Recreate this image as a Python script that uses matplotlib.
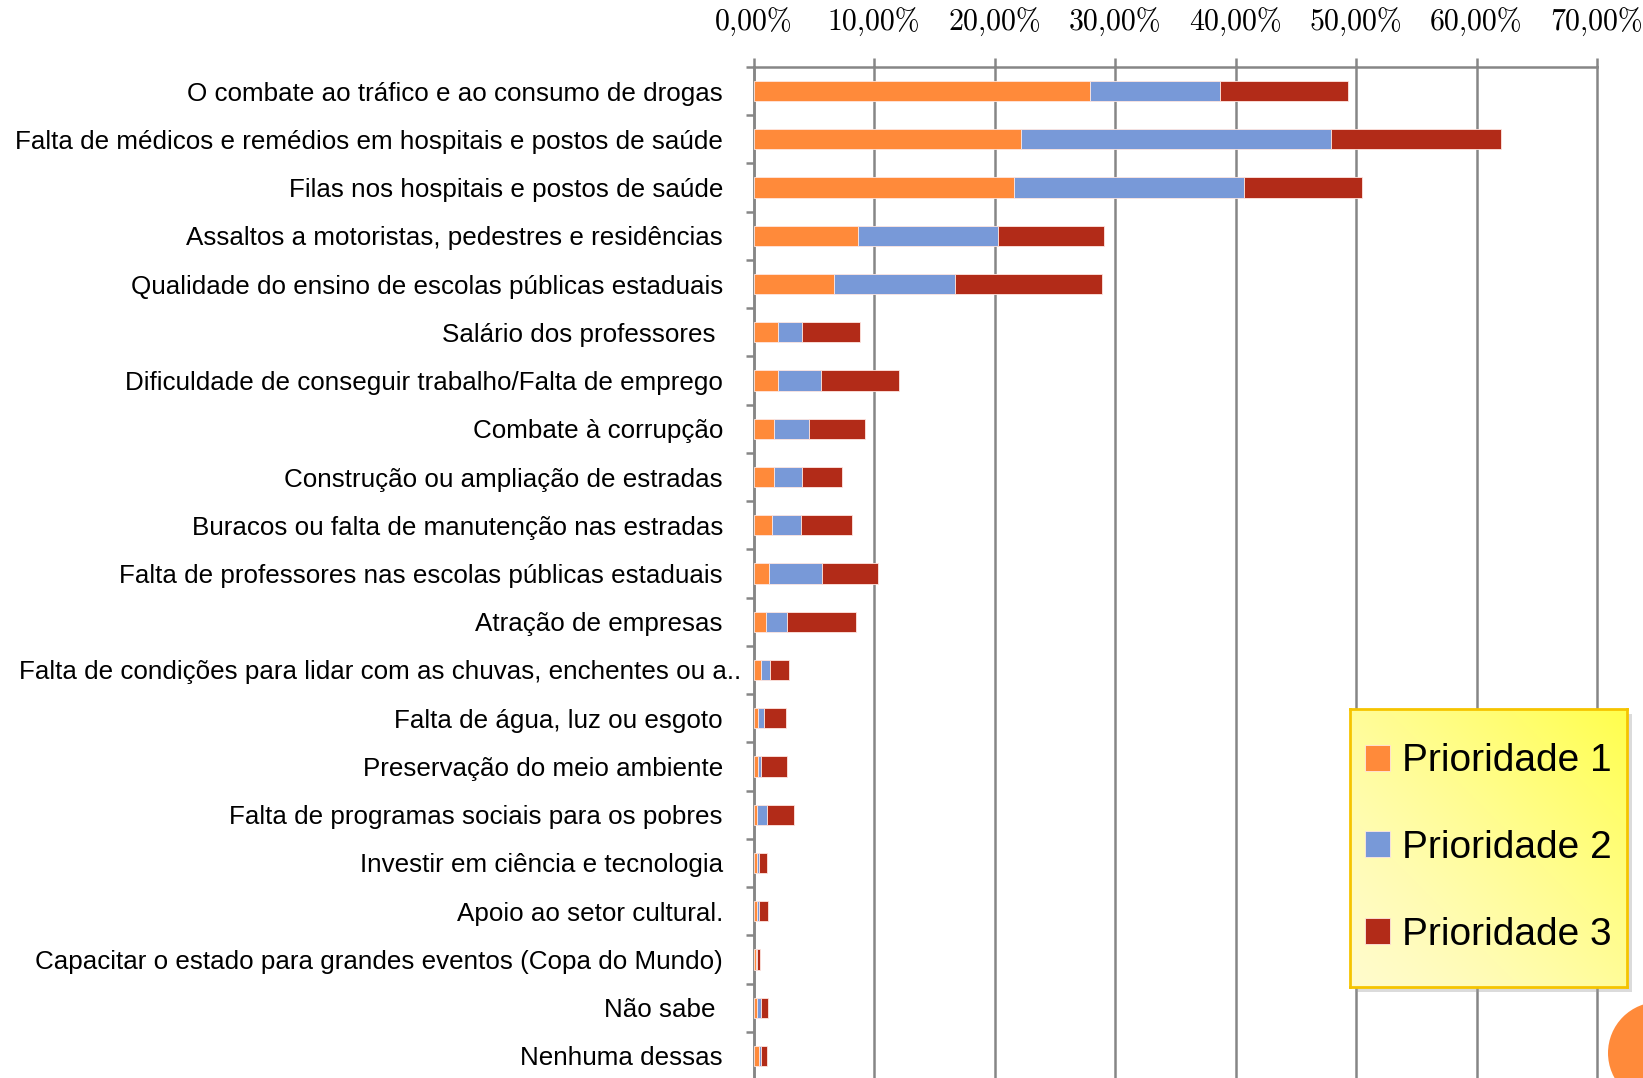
import numpy as np
import matplotlib

matplotlib.use("Agg")
import matplotlib.pyplot as plt
from matplotlib.patches import Rectangle, Circle
from matplotlib.transforms import ScaledTranslation

# categorias (de cima para baixo)
categorias = [
    "O combate ao tráfico e ao consumo de drogas",
    "Falta de médicos e remédios em hospitais e postos de saúde",
    "Filas nos hospitais e postos de saúde",
    "Assaltos a motoristas, pedestres e residências",
    "Qualidade do ensino de escolas públicas estaduais",
    "Salário dos professores ",
    "Dificuldade de conseguir trabalho/Falta de emprego",
    "Combate à corrupção",
    "Construção ou ampliação de estradas",
    "Buracos ou falta de manutenção nas estradas",
    "Falta de professores nas escolas públicas estaduais",
    "Atração de empresas",
    "Falta de condições para lidar com as chuvas, enchentes ou a..",
    "Falta de água, luz ou esgoto",
    "Preservação do meio ambiente",
    "Falta de programas sociais para os pobres",
    "Investir em ciência e tecnologia",
    "Apoio ao setor cultural.",
    "Capacitar o estado para grandes eventos (Copa do Mundo)",
    "Não sabe ",
    "Nenhuma dessas",
]

# valores em %
prioridade_1 = [27.9, 22.2, 21.6, 8.7, 6.7, 2.0, 2.0, 1.7, 1.7, 1.5, 1.3, 1.0,
                0.66, 0.36, 0.36, 0.25, 0.28, 0.28, 0.22, 0.33, 0.47]
prioridade_2 = [10.8, 25.7, 19.1, 11.6, 10.0, 2.0, 3.6, 2.9, 2.35, 2.45, 4.4, 1.8,
                0.75, 0.53, 0.30, 0.86, 0.16, 0.19, 0.11, 0.33, 0.19]
prioridade_3 = [10.6, 14.1, 9.8, 8.8, 12.2, 4.8, 6.5, 4.65, 3.3, 4.25, 4.65, 5.7,
                1.5, 1.8, 2.14, 2.24, 0.64, 0.72, 0.22, 0.53, 0.42]

series_nomes = ["Prioridade 1", "Prioridade 2", "Prioridade 3"]
cores = ["#FF8A3A", "#7899D8", "#B22B18"]
xticks = [0, 10, 20, 30, 40, 50, 60, 70]

fonte_rotulos = ["Liberation Sans", "DejaVu Sans"]
cinza = "#868686"

W, H = 1643, 1078
fig = plt.figure(figsize=(W / 100, H / 100), dpi=100)
ax = fig.add_axes([753.5 / W, -2 / H, 843.5 / W, 1013 / H])

y = np.arange(len(categorias))
esquerda = np.zeros(len(categorias))
barras = []
for vals, nome, cor in zip([prioridade_1, prioridade_2, prioridade_3], series_nomes, cores):
    vals = np.array(vals)
    b = ax.barh(y, vals, left=esquerda, height=0.42, color=cor, label=nome,
                edgecolor="#FFE6E0", linewidth=0.6, zorder=3)
    barras.append(b)
    esquerda = esquerda + vals

ax.set_xlim(0, 70)
ax.set_ylim(len(categorias) - 0.5, -0.5)

# eixo x no topo
ax.xaxis.tick_top()
ax.set_xticks(xticks)
ax.set_xticklabels([f"{v:.2f}%".replace(".", ",") for v in xticks],
                   fontfamily="cmr10", fontsize=21.5)
ax.tick_params(axis="x", direction="out", length=6.5, width=1.8, color=cinza, pad=15)

# eixo y: rótulos no centro, marcas nas divisões
ax.set_yticks(y)
ax.set_yticklabels(categorias, fontfamily=fonte_rotulos, fontsize=18.7)
ax.set_yticks(np.arange(len(categorias) + 1) - 0.5, minor=True)
ax.tick_params(axis="y", which="major", length=0, pad=22)
ax.tick_params(axis="y", which="minor", direction="out", length=6, width=1.8, color=cinza)

# o rótulo truncado fica um pouco mais à direita no original
rot = ax.get_yticklabels()[12]
rot.set_transform(rot.get_transform() + ScaledTranslation(0.18, 0, fig.dpi_scale_trans))

ax.grid(axis="x", color=cinza, linewidth=1.8, zorder=0)
ax.set_axisbelow(True)
for gl in ax.get_xgridlines():
    gl.set_clip_on(False)
for lado in ["right", "bottom"]:
    ax.spines[lado].set_visible(False)
for lado in ["top", "left"]:
    ax.spines[lado].set_color(cinza)
    ax.spines[lado].set_linewidth(1.8)

# legenda com fundo amarelo em degradê
lx0, ly0, lw, lh = 1350, 709, 277, 278
sombra = Rectangle(((lx0 + 5) / W, 1 - (ly0 + lh + 5) / H), lw / W, lh / H,
                   transform=fig.transFigure, facecolor="#999999", alpha=0.35,
                   edgecolor="none", zorder=4)
fig.patches.append(sombra)
lax = fig.add_axes([lx0 / W, 1 - (ly0 + lh) / H, lw / W, lh / H], zorder=5)
gx, gy = np.meshgrid(np.linspace(0, 1, 200), np.linspace(0, 1, 200))
t = np.clip((gx + (1 - gy)) / 2, 0, 1) ** 1.3
c0 = np.array([1.0, 0.985, 0.80])
c1 = np.array([1.0, 1.0, 0.30])
grad = c0[None, None, :] * (1 - t[..., None]) + c1[None, None, :] * t[..., None]
lax.imshow(grad, extent=[0, 1, 0, 1], aspect="auto", origin="upper")
lax.set_xticks([])
lax.set_yticks([])
for s in lax.spines.values():
    s.set_color("#F5C400")
    s.set_linewidth(2)
lax.legend(barras, series_nomes, loc="center", frameon=False,
           prop={"family": fonte_rotulos, "size": 28},
           handlelength=0.65, handleheight=0.65, handletextpad=0.3,
           labelspacing=1.3, borderaxespad=0)

# círculo decorativo laranja
fig.patches.append(Circle((1659 / 100, (H - 1053) / 100), 0.51,
                          transform=fig.dpi_scale_trans, facecolor="#FF8A3A",
                          edgecolor="none", zorder=6))

fig.savefig("out.png", dpi=100)
